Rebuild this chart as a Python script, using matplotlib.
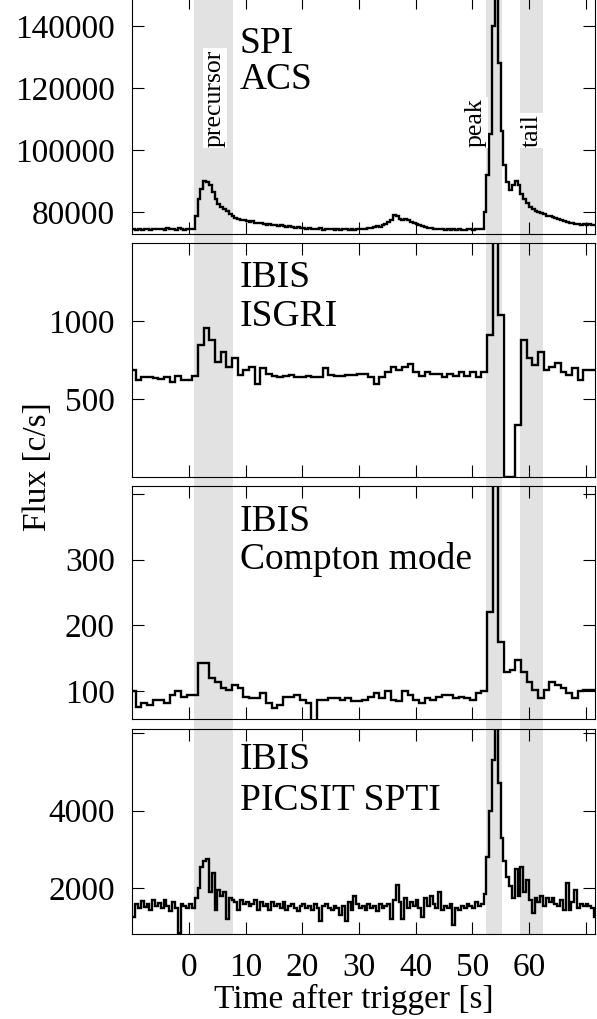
import matplotlib
matplotlib.use('Agg')

import matplotlib.pyplot as plt
import matplotlib.transforms as mtransforms
import numpy as np

plt.rcParams['font.family'] = ['Liberation Serif', 'DejaVu Serif']

# ---- data -------------------------------------------------------------
# SPI-ACS and PICSIT: 0.5 s bins starting at -10 s
fine_start, fine_step = -10.0, 0.5
# ISGRI and Compton: 1 s bins starting at -10.4 s
coarse_start, coarse_step = -10.4, 1.0

acs = [
    74300, 74100, 74400, 74200, 74500, 74300, 74100, 74400, 74300, 74600,
    74400, 74200, 74700, 74300, 74500, 74200, 74800, 74400, 74100, 74500,
    74400, 74600, 78500, 84000, 87500, 89800, 89600, 88800, 86500, 84000,
    82500, 81500, 80800, 80300, 79200, 78500, 78000, 77700, 77400, 77200,
    77000, 76700, 76900, 76500, 76300, 76500, 76000, 75900, 76100, 75700,
    75600, 75400, 75700, 75300, 75200, 75400, 75000, 74900, 75200, 74800,
    74700, 74500, 74900, 74400, 74600, 74300, 74700, 74200, 74500, 74400,
    74600, 74200, 74500, 74100, 74400, 74300, 74000, 74400, 74200, 74600,
    74400, 74600, 74500, 74800, 74700, 75000, 75300, 75200, 75600, 76000,
    76800, 77500, 78900, 78600, 77800, 77500, 77700, 77200, 76800, 76500,
    76000, 75600, 75300, 75100, 74800, 74900, 74500, 74600, 74300, 74400,
    74200, 74500, 74100, 74300, 74000, 74400, 74200, 74100, 74500, 74300,
    74200, 74500, 74400, 74300, 80000, 92000, 105000, 140000, 165000, 128000,
    106000, 95000, 89500, 87000, 88500, 90000, 88500, 85800, 84000, 82800,
    81600, 80800, 80200, 80000, 79500, 79300, 78800, 78500, 78300, 77900,
    77600, 77300, 77000, 76800, 76500, 76300, 76100, 76200, 75900, 76000,
    75800, 76000, 75700, 75900,
]

isgri = [
    686, 622, 640, 643, 637, 632, 640, 611, 650, 625,
    622, 650, 846, 959, 878, 739, 804, 707, 761, 654,
    686, 707, 600, 697, 664, 647, 645, 647, 654, 643,
    645, 650, 640, 640, 700, 654, 647, 647, 654, 654,
    660, 662, 643, 600, 643, 675, 707, 686, 707, 724,
    675, 647, 675, 664, 664, 643, 664, 647, 675, 647,
    675, 643, 675, 910, 1600, 1038, 0, 0, 333, 878,
    761, 718, 804, 686, 707, 729, 676, 654, 697, 622,
    686, 686, 686,
]

compton = [
    100, 76, 81, 79, 86, 86, 81, 94, 99, 91,
    94, 94, 142, 142, 119, 114, 104, 101, 109, 104,
    91, 89, 89, 96, 81, 74, 79, 91, 91, 94,
    86, 81, 50, 86, 86, 89, 89, 86, 89, 84,
    84, 86, 91, 96, 89, 100, 86, 84, 99, 94,
    86, 81, 89, 86, 91, 93, 93, 89, 91, 89,
    86, 96, 99, 221, 440, 175, 129, 132, 147, 129,
    114, 101, 89, 101, 114, 109, 104, 96, 89, 99,
    101, 101, 101,
]

picsit = [
    1250, 1600, 1480, 1680, 1520, 1580, 1450, 1700, 1550, 1620,
    1480, 1700, 1550, 1400, 1650, 1500, 850, 1600, 1550, 1500,
    1600, 1500, 1750, 2000, 2550, 2700, 2750, 1900, 2400, 1450,
    1950, 1800, 1900, 1200, 1750, 1700, 1650, 1450, 1700, 1600,
    1650, 1550, 1600, 1700, 1450, 1650, 1550, 1600, 1450, 1650,
    1550, 1600, 1500, 1650, 1450, 1550, 1600, 1500, 1400, 1550,
    1600, 1500, 1550, 1450, 1600, 1500, 1150, 1550, 1600, 1500,
    1450, 1550, 1500, 1300, 1550, 1150, 1650, 1450, 1800, 1600,
    1500, 1550, 1450, 1600, 1500, 1550, 1400, 1600, 1500, 1550,
    1600, 1200, 1700, 2080, 1650, 1200, 1750, 1500, 1650, 1550,
    1700, 1500, 1250, 1750, 1550, 1800, 1600, 1500, 1900, 1450,
    1550, 1500, 1600, 1050, 1500, 1450, 1550, 1500, 1600, 1550,
    1500, 1650, 1550, 1600, 1850, 2800, 4000, 5300, 6200, 4700,
    3300, 2700, 2300, 2050, 1750, 2500, 1800, 2550, 1900, 2200,
    1700, 1360, 1750, 1650, 1800, 1550, 1750, 1650, 1750, 1600,
    1550, 1700, 1450, 2140, 1450, 1650, 1950, 1500, 1600, 1550,
    1600, 1550, 1500, 1250,
]

band_names = ['precursor', 'peak', 'tail']
band_lo = [0.9, 52.4, 58.4]
band_hi = [7.7, 55.2, 62.4]

panel_names = [('SPI', 'ACS'), ('IBIS', 'ISGRI'),
               ('IBIS', 'Compton mode'), ('IBIS', 'PICSIT SPTI')]
panel_ylims = [(73000, 149300), (0, 1500), (57, 412.5), (820, 6100)]
panel_yticks = [[80000, 100000, 120000, 140000], [500, 1000],
                [100, 200, 300, 400], [2000, 4000, 6000]]
panel_ylabels = [['80000', '100000', '120000', '140000'], ['500', '1000'],
                 ['100', '200', '300', ''], ['2000', '4000', '']]
xtick_vals = [0, 10, 20, 30, 40, 50, 60, 70]
xtick_labels = ['0', '10', '20', '30', '40', '50', '60', '']

# ---- layout (pixel based) ----------------------------------------------
W, H = 597, 1019
fig = plt.figure(figsize=(W / 100, H / 100), dpi=100)

left_px, right_px = 131.5, 595
panel_px = [(-3, 233.5), (243.3, 477), (486, 719), (729, 934)]
xlim = (-10.15, 71.65)


def rect(top, bottom):
    return [left_px / W, 1 - bottom / H, (right_px - left_px) / W, (bottom - top) / H]


# shaded intervals running through the whole stack
bg = fig.add_axes(rect(-20, 934))
bg.set_xlim(xlim)
bg.axis('off')
for lo, hi in zip(band_lo, band_hi):
    bg.axvspan(lo, hi, color='#e2e2e2', lw=0)

fine_edges = fine_start + fine_step * np.arange(len(acs) + 1)
coarse_edges = coarse_start + coarse_step * np.arange(len(isgri) + 1)
series = [(acs, fine_edges), (isgri, coarse_edges),
          (compton, coarse_edges), (picsit, fine_edges)]

axes = []
for i, ((top, bot), (vals, edges)) in enumerate(zip(panel_px, series)):
    ax = fig.add_axes(rect(top, bot))
    ax.set_facecolor('none')
    ax.stairs(vals, edges, baseline=None, color='k', lw=1.7)
    ax.set_xlim(xlim)
    ax.set_ylim(panel_ylims[i])
    ax.set_yticks(panel_yticks[i], panel_ylabels[i])
    ax.set_xticks(xtick_vals, xtick_labels)
    ax.tick_params(direction='in', length=8.5, width=0.8, top=True, right=True,
                   labelsize=24)
    ax.tick_params(axis='y', pad=12)
    ax.tick_params(axis='x', pad=13, labelbottom=(i == 3))
    for s in ax.spines.values():
        s.set_linewidth(0.8)
    axes.append(ax)

# panel names
name_baselines = [(52.7, 89.3), (286.7, 326), (530.7, 569.3), (769.3, 810)]
for (l1, l2), (b1, b2) in zip(panel_names, name_baselines):
    fig.text(239.5 / W, 1 - b1 / H, l1, fontsize=27, va='baseline', ha='left')
    fig.text(239.5 / W, 1 - b2 / H, l2, fontsize=27, va='baseline', ha='left')

# band labels in the top panel
label_x = [4.6, 50.65, 60.5]
trans = mtransforms.blended_transform_factory(axes[0].transData, axes[0].transAxes)
for name, lx in zip(band_names, label_x):
    axes[0].text(lx, 0.366, name, transform=trans, rotation=90, fontsize=18.5,
                 ha='center', va='bottom',
                 bbox=dict(facecolor='white', edgecolor='none', pad=1))

fig.text(38 / W, 1 - 467 / H, 'Flux [c/s]', rotation=90, fontsize=24,
         ha='center', va='center')
fig.text(354 / W, 1 - 1008 / H, 'Time after trigger [s]', fontsize=24,
         ha='center', va='baseline')

fig.savefig('out.png', dpi=100)
